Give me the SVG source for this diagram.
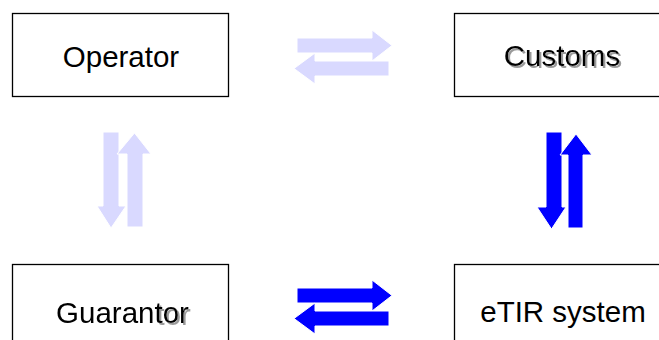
<svg xmlns="http://www.w3.org/2000/svg" width="659" height="340" viewBox="0 0 659 340">
  <style>
    .box { fill: #ffffff; stroke: #000000; stroke-width: 1.3; }
    .lbl { font-family: "Liberation Sans", Arial, sans-serif; font-size: 29.5px; fill: #000000; text-anchor: middle; }
    .light { fill: #d9d9ff; stroke: #ffffff; stroke-width: 1; }
    .blue { fill: #0000ff; stroke: #ffffff; stroke-width: 1; }
  </style>
  <defs>
    <filter id="shadow" x="-10%" y="-20%" width="130%" height="160%">
      <feOffset in="SourceAlpha" dx="2" dy="2" result="off"/>
      <feFlood flood-color="#9a9a9a" result="col"/>
      <feComposite in="col" in2="off" operator="in" result="sh"/>
      <feMerge>
        <feMergeNode in="sh"/>
        <feMergeNode in="SourceGraphic"/>
      </feMerge>
    </filter>
    <filter id="shadowPart" filterUnits="userSpaceOnUse" primitiveUnits="userSpaceOnUse" x="40" y="280" width="180" height="60">
      <feOffset in="SourceAlpha" dx="2" dy="2" result="off"/>
      <feFlood flood-color="#9a9a9a" x="156" y="280" width="60" height="60" result="col"/>
      <feComposite in="col" in2="off" operator="in" x="156" y="280" width="60" height="60" result="sh"/>
      <feMerge>
        <feMergeNode in="sh"/>
        <feMergeNode in="SourceGraphic"/>
      </feMerge>
    </filter>
  </defs>

  <g id="operator">
    <rect class="box" x="12.5" y="13.5" width="216" height="83"/>
    <text class="lbl" x="121" y="67">Operator</text>
  </g>
  <g id="customs">
    <rect class="box" x="454.5" y="13.5" width="216" height="83"/>
    <text class="lbl" x="562" y="66" filter="url(#shadow)">Customs</text>
  </g>
  <g id="guarantor">
    <rect class="box" x="12.5" y="264.5" width="216" height="83"/>
    <text class="lbl" x="122.5" y="323" filter="url(#shadowPart)">Guarantor</text>
  </g>
  <g id="etir">
    <rect class="box" x="454.5" y="264.5" width="216" height="83"/>
    <text class="lbl" x="563" y="322">eTIR system</text>
  </g>

  <g id="connectors">
    <!-- Operator <-> Customs (light) -->
    <polygon class="light" points="297,38 372,38 372,30 392,45.5 372,61 372,53 297,53"/>
    <polygon class="light" points="389,61 315,61 315,53 294,68.5 315,84 315,76 389,76"/>
    <!-- Operator <-> Guarantor (light) -->
    <polygon class="light" points="103,132 119,132 119,206 126,206 111,228 97,206 103,206"/>
    <polygon class="light" points="127,227 143,227 143,154 151,154 134.5,133 117,154 127,154"/>
    <!-- Customs <-> eTIR (blue) -->
    <polygon class="blue" points="546,132 562,132 562,207 566,207 551.5,229 537,207 546,207"/>
    <polygon class="blue" points="568,228 583,228 583,155 592,155 576,134 560,155 568,155"/>
    <!-- Guarantor <-> eTIR (blue) -->
    <polygon class="blue" points="297,288 372,288 372,280 392,295.5 372,311 372,303 297,303"/>
    <polygon class="blue" points="389,311 315,311 315,303 294,318.5 315,334 315,326 389,326"/>
  </g>
</svg>
